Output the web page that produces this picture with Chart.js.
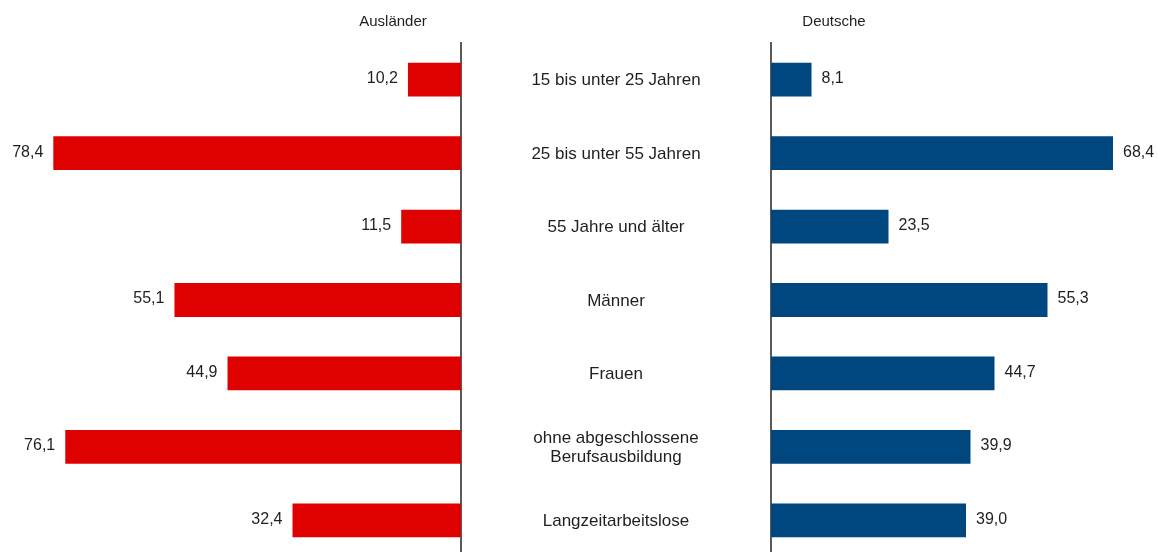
<!DOCTYPE html>
<html lang="de">
<head>
<meta charset="utf-8">
<script src="https://cdn.jsdelivr.net/npm/chart.js@4/dist/chart.umd.min.js"></script>
<style>
  html, body { margin: 0; padding: 0; background: #fff; overflow: hidden; }
  body { width: 1158px; height: 552px; position: relative; }
  .box { position: absolute; top: 0; height: 560px; }
  #boxLeft { left: 0; width: 771px; }
  #boxRight { left: 769px; width: 389px; }
</style>
</head>
<body>
<div class="box" id="boxLeft"><canvas id="chartAuslaender"></canvas></div>
<div class="box" id="boxRight"><canvas id="chartDeutsche"></canvas></div>
<script>
// Daten
const kategorien = [
    ['15 bis unter 25 Jahren'],
    ['25 bis unter 55 Jahren'],
    ['55 Jahre und älter'],
    ['Männer'],
    ['Frauen'],
    ['ohne abgeschlossene', 'Berufsausbildung'],
    ['Langzeitarbeitslose']
];
const werteAuslaender = [10.2, 78.4, 11.5, 55.1, 44.9, 76.1, 32.4];
const werteDeutsche = [8.1, 68.4, 23.5, 55.3, 44.7, 39.9, 39.0];
const titelLinks = 'Ausländer';
const titelRechts = 'Deutsche';

const FONT = '"Liberation Sans", Arial, Helvetica, sans-serif';
const TEXT = '#1f1f1f';
const ACHSE = '#5a5a5a';

function fmt(v) {
    return v.toFixed(1).replace('.', ',');
}

// Werte neben den Balken + Titel + Kategorien
const labelPlugin = {
    id: 'labelPlugin',
    afterDatasetsDraw(chart, args, opts) {
        const ctx = chart.ctx;
        const meta = chart.getDatasetMeta(0);
        const data = chart.data.datasets[0].data;
        ctx.save();
        ctx.fillStyle = TEXT;
        ctx.textBaseline = 'middle';
        ctx.font = '16px ' + FONT;
        meta.data.forEach((bar, i) => {
            if (opts.side === 'left') {
                ctx.textAlign = 'right';
                ctx.fillText(fmt(data[i]), bar.x - 10, bar.y - 1);
            } else {
                ctx.textAlign = 'left';
                ctx.fillText(fmt(data[i]), bar.x + 10, bar.y - 1);
            }
        });

        // Kategorien in der Mitte
        if (opts.side === 'left') {
            const y = chart.scales.y;
            const cx = chart.chartArea.right + 155;
            ctx.font = '17px ' + FONT;
            ctx.textAlign = 'center';
            chart.data.labels.forEach((lines, i) => {
                const cy = y.getPixelForValue(i);
                const lh = 19;
                const start = cy - (lines.length - 1) * lh / 2;
                lines.forEach((t, j) => ctx.fillText(t, cx, start + j * lh + 1));
            });
        }

        // Titel
        ctx.font = '15px ' + FONT;
        ctx.textAlign = 'center';
        ctx.fillText(opts.title, opts.titleX, 22);
        ctx.restore();
    }
};

function makeChart(id, values, color, side) {
    const left = side === 'left';
    return new Chart(document.getElementById(id), {
        type: 'bar',
        data: {
            labels: kategorien,
            datasets: [{
                data: values,
                backgroundColor: color,
                borderWidth: 0,
                barPercentage: 0.46,
                categoryPercentage: 1
            }]
        },
        options: {
            indexAxis: 'y',
            responsive: true,
            maintainAspectRatio: false,
            animation: false,
            layout: { padding: { top: 43, bottom: 3, left: 0, right: 0 } },
            plugins: {
                legend: { display: false },
                tooltip: { enabled: false },
                labelPlugin: {
                    side: side,
                    title: left ? titelLinks : titelRechts,
                    titleX: left ? 393 : 65
                }
            },
            scales: {
                x: {
                    display: false,
                    reverse: left,
                    min: 0,
                    max: left ? 88.65 : 77.4
                },
                y: {
                    position: left ? 'right' : 'left',
                    ticks: { display: false },
                    grid: { display: false },
                    border: { display: true, color: ACHSE, width: 2 },
                    afterFit: function(scale) {
                        scale.width = left ? 310 : 2;
                    }
                }
            }
        },
        plugins: [labelPlugin]
    });
}

makeChart('chartAuslaender', werteAuslaender, '#df0000', 'left');
makeChart('chartDeutsche', werteDeutsche, '#00467f', 'right');
</script>
</body>
</html>
